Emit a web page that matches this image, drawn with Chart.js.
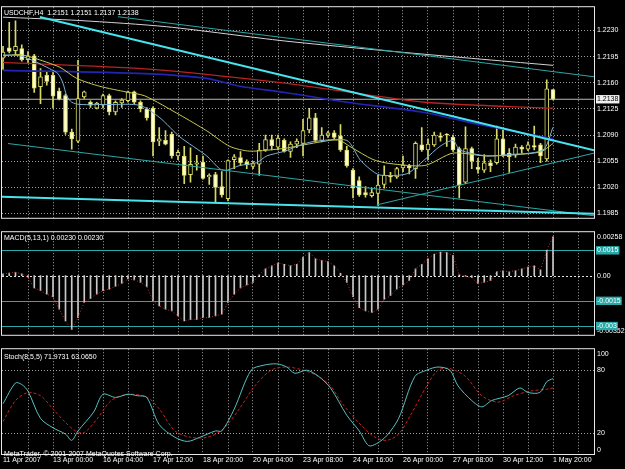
<!DOCTYPE html>
<html>
<head>
<meta charset="utf-8">
<script src="https://cdn.jsdelivr.net/npm/chart.js@4.4.1/dist/chart.umd.min.js"></script>
<style>
  html, body { margin: 0; padding: 0; background: #000; }
  #wrap { position: relative; width: 625px; height: 469px; background: #000; overflow: hidden; }
  canvas { position: absolute; left: 0; }
</style>
</head>
<body>
<div id="wrap">
  <canvas id="mainChart" width="625" height="225" style="top:0px"></canvas>
  <canvas id="macdChart" width="625" height="117" style="top:225px"></canvas>
  <canvas id="stochChart" width="625" height="127" style="top:342px"></canvas>
</div>
<script>
// USDCHF H4, 89 bars from 11 Apr 2007 16:00 to 1 May 2007 20:00
const symbol = "USDCHF,H4";
const timeLabels = ["11 Apr 2007", "13 Apr 00:00", "16 Apr 04:00", "17 Apr 12:00", "18 Apr 20:00", "20 Apr 04:00",
  "23 Apr 08:00", "24 Apr 16:00", "26 Apr 00:00", "27 Apr 08:00", "30 Apr 12:00", "1 May 20:00"];

const opens = [1.2193, 1.2207, 1.2203, 1.2206, 1.2191, 1.2196, 1.2155, 1.2170, 1.2170, 1.2149,
  1.2143, 1.2094, 1.2082, 1.2141, 1.2134, 1.2126, 1.2130, 1.2143, 1.2121, 1.2133,
  1.2136, 1.2148, 1.2134, 1.2125, 1.2126, 1.2082, 1.2083, 1.2091, 1.2062, 1.2062,
  1.2037, 1.2051, 1.2054, 1.2034, 1.2037, 1.2021, 1.2005, 1.2057, 1.2060, 1.2054,
  1.2048, 1.2051, 1.2070, 1.2084, 1.2074, 1.2083, 1.2068, 1.2078, 1.2079, 1.2097,
  1.2113, 1.2083, 1.2090, 1.2093, 1.2089, 1.2070, 1.2043, 1.2029, 1.2013, 1.2009,
  1.2012, 1.2024, 1.2036, 1.2034, 1.2046, 1.2049, 1.2045, 1.2077, 1.2070, 1.2077,
  1.2089, 1.2091, 1.2087, 1.2072, 1.2027, 1.2072, 1.2047, 1.2043, 1.2053, 1.2053,
  1.2085, 1.2066, 1.2063, 1.2074, 1.2071, 1.2076, 1.2077, 1.2058, 1.2151];
const highs = [1.2209, 1.2241, 1.2243, 1.2211, 1.2202, 1.2198, 1.2179, 1.2174, 1.2174, 1.2153,
  1.2145, 1.2098, 1.2190, 1.2149, 1.2136, 1.2134, 1.2145, 1.2145, 1.2136, 1.2139,
  1.2149, 1.2149, 1.2136, 1.2127, 1.2128, 1.2100, 1.2096, 1.2094, 1.2070, 1.2075,
  1.2073, 1.2063, 1.2062, 1.2038, 1.2040, 1.2041, 1.2057, 1.2064, 1.2068, 1.2057,
  1.2055, 1.2079, 1.2090, 1.2090, 1.2090, 1.2085, 1.2081, 1.2085, 1.2111, 1.2126,
  1.2119, 1.2100, 1.2095, 1.2096, 1.2104, 1.2075, 1.2045, 1.2034, 1.2021, 1.2019,
  1.2036, 1.2049, 1.2040, 1.2047, 1.2062, 1.2051, 1.2081, 1.2100, 1.2085, 1.2094,
  1.2093, 1.2092, 1.2090, 1.2074, 1.2101, 1.2074, 1.2059, 1.2064, 1.2057, 1.2102,
  1.2098, 1.2072, 1.2078, 1.2076, 1.2081, 1.2102, 1.2079, 1.2164, 1.2151];
const lows = [1.2178, 1.2200, 1.2198, 1.2189, 1.2187, 1.2147, 1.2132, 1.2157, 1.2126, 1.2137,
  1.2091, 1.2071, 1.2080, 1.2139, 1.2127, 1.2125, 1.2126, 1.2117, 1.2117, 1.2127,
  1.2134, 1.2132, 1.2121, 1.2110, 1.2062, 1.2076, 1.2077, 1.2059, 1.2057, 1.2025,
  1.2027, 1.2043, 1.2031, 1.2024, 1.2000, 1.2007, 1.2002, 1.2045, 1.2049, 1.2045,
  1.2045, 1.2036, 1.2068, 1.2070, 1.2070, 1.2067, 1.2060, 1.2073, 1.2062, 1.2093,
  1.2081, 1.2081, 1.2087, 1.2084, 1.2068, 1.2047, 1.2006, 1.2008, 1.2007, 1.2007,
  1.1996, 1.2019, 1.2027, 1.2032, 1.2041, 1.2038, 1.2032, 1.2068, 1.2057, 1.2075,
  1.2082, 1.2075, 1.2068, 1.2006, 1.2025, 1.2045, 1.2039, 1.2040, 1.2041, 1.2051,
  1.2061, 1.2040, 1.2060, 1.2066, 1.2069, 1.2070, 1.2053, 1.2055, 1.2137];
const closes = [1.2201, 1.2202, 1.2209, 1.2191, 1.2196, 1.2153, 1.2168, 1.2162, 1.2142, 1.2138,
  1.2094, 1.2085, 1.2139, 1.2148, 1.2130, 1.2133, 1.2143, 1.2121, 1.2134, 1.2137,
  1.2148, 1.2134, 1.2125, 1.2113, 1.2081, 1.2085, 1.2078, 1.2062, 1.2067, 1.2036,
  1.2051, 1.2053, 1.2032, 1.2036, 1.2020, 1.2010, 1.2056, 1.2061, 1.2053, 1.2050,
  1.2052, 1.2070, 1.2084, 1.2076, 1.2086, 1.2068, 1.2078, 1.2082, 1.2096, 1.2113,
  1.2083, 1.2090, 1.2093, 1.2087, 1.2070, 1.2049, 1.2019, 1.2010, 1.2010, 1.2013,
  1.2023, 1.2036, 1.2034, 1.2045, 1.2050, 1.2046, 1.2079, 1.2070, 1.2078, 1.2090,
  1.2087, 1.2090, 1.2070, 1.2023, 1.2072, 1.2055, 1.2044, 1.2053, 1.2049, 1.2085,
  1.2062, 1.2061, 1.2074, 1.2071, 1.2077, 1.2074, 1.2062, 1.2152, 1.2138];

// moving averages at (bar index, price)
const maWhiteIdx = [0, 12.3, 26.2, 45.1, 65.1, 88];
const maWhiteVal = [1.22479, 1.22434, 1.22351, 1.22160, 1.22000, 1.21834];
const maRedIdx = [0, 22.7, 45.1, 67.5, 88];
const maRedVal = [1.21873, 1.21787, 1.21596, 1.21340, 1.21260];
const maBlueIdx = [0, 22.7, 32.6, 37.9, 45.1, 55, 66.7, 77.4, 86.4, 88];
const maBlueVal = [1.21767, 1.21723, 1.21659, 1.21554, 1.21471, 1.21340, 1.21213, 1.21021, 1.20877, 1.20852];
const maYellowIdx = [0, 2.7, 4.8, 9.1, 11.8, 15.5, 19.8, 22.7, 28.3, 32.6, 36.3, 39.5, 45.1, 47, 52.3, 53.9,
  55.5, 59.2, 61.9, 67.5, 72, 77.4, 85.9, 88];
const maYellowVal = [1.21962, 1.21978, 1.21936, 1.21808, 1.21659, 1.21553, 1.21476, 1.21425, 1.21170, 1.20957,
  1.20748, 1.20685, 1.20723, 1.20752, 1.20829, 1.20829, 1.20748, 1.20573, 1.20519, 1.20493, 1.20659, 1.20621,
  1.20672, 1.20787];
const maFastIdx = [0, 2.7, 4.8, 7.5, 8.8, 9.6, 10.2, 11, 12.3, 17.1, 21.9, 25.1, 28.3, 32.6, 34.7, 35.8, 37.9,
  40.6, 42.2, 45.1, 47.5, 49.6, 55, 57.1, 58.7, 60.3, 64.6, 67.5, 69.9, 72, 73.1, 77.4, 80.6, 86.4, 88];
const maFastVal = [1.21974, 1.21962, 1.21898, 1.21787, 1.21723, 1.21595, 1.21425, 1.21340, 1.21310, 1.21310,
  1.21298, 1.21132, 1.20876, 1.20621, 1.20446, 1.20429, 1.20493, 1.20531, 1.20621, 1.20685, 1.20765, 1.20812,
  1.20829, 1.20573, 1.20446, 1.20365, 1.20382, 1.20573, 1.20749, 1.20829, 1.20701, 1.20621, 1.20637, 1.20701,
  1.21004];

// drawn trend lines: [start bar, start price, end bar, end price]
const trendThickTop = [5.9, 1.22482, 94.56, 1.20697];
const trendThinTop = [18.4, 1.22485, 94.56, 1.21681];
const trendThinLow = [0.8, 1.20787, 94.56, 1.19820];
const trendThickLow = [-0.16, 1.20076, 94.56, 1.19848];
const trendRising = [59.8, 1.19965, 94.56, 1.20659];

const priceTicks = [1.2230, 1.2195, 1.2160, 1.2125, 1.2090, 1.2055, 1.2020, 1.1985];

// MACD(5,13,1)
const macdValues = [0.0001, 0.00015, 0.0002, 0.0001, -0.0001, -0.00074, -0.0009, -0.0011, -0.00126, -0.002,
  -0.0027, -0.0032, -0.0025, -0.0016, -0.00135, -0.0011, -0.0009, -0.0008, -0.00065, -0.00047,
  -0.0002, -0.00025, -0.0004, -0.00065, -0.0015, -0.0018, -0.002, -0.0021, -0.0024, -0.0027,
  -0.0026, -0.0026, -0.0025, -0.0025, -0.0024, -0.0023, -0.0016, -0.0011, -0.00074, -0.00056,
  -0.0004, 0.00005, 0.0004, 0.00058, 0.00075, 0.00067, 0.00058, 0.00067, 0.0011, 0.00137,
  0.001, 0.0009, 0.00084, 0.00058, 0.00014, -0.0004, -0.00126, -0.0019, -0.0021, -0.0022,
  -0.002, -0.0014, -0.0012, -0.0008, -0.00056, -0.0003, 0.0004, 0.00067, 0.001, 0.00128,
  0.0014, 0.00137, 0.0012, 0.00005, -0.00004, -0.00012, -0.00047, -0.0004, -0.0003, 0.00023,
  0.00028, 0.00023, 0.0003, 0.0004, 0.0005, 0.00058, 0.00035, 0.0015, 0.0023];
const macdLevels = [0.0015, -0.0015, -0.003];
const macdLevelLabels = ["0.0015", "-0.0015", "-0.003"];

// Stochastic(8,5,5)
const stochMainIdx = [0, 2, 3, 4, 6, 8, 10, 11, 12, 14.5, 16, 18, 20, 21.5, 23, 25, 27.5, 29.5, 31.5, 34, 35, 37,
  39.7, 41.6, 43.8, 45.4, 46.7, 48.6, 50.5, 52.4, 55, 57, 58.5, 59.8, 61.4, 63.3, 65.9, 67.8, 69.6, 71.5, 72.8,
  75, 76.6, 78.2, 80.8, 82.7, 84, 85.9, 87, 88];
const stochMainVal = [48, 67.8, 66.3, 60, 34, 25, 19, 13, 22, 40, 57, 54, 57, 55.6, 54, 28, 16, 12, 16, 22, 22, 43,
  80, 84.6, 86, 83, 77, 80, 74, 63, 37, 22, 8, 10, 17.5, 34, 74, 80, 83, 80, 65, 51, 45, 51, 55.6, 63, 58.7,
  58.7, 69, 71.9731];
const stochSigIdx = [0, 2, 4, 6, 8, 10, 11.6, 13, 15, 17.3, 20, 23.1, 25, 27.5, 30, 32.7, 35.2, 37.8, 40.3, 42.9,
  45.4, 48, 50.5, 52.4, 54.3, 56.9, 59.5, 61.4, 63.3, 65.2, 67.8, 69.6, 71.5, 74, 76.6, 79.2, 81.7, 84.3, 86.9, 88];
const stochSigVal = [31, 51, 58.7, 55.6, 43, 30, 22, 20.5, 33, 51, 57, 54, 43, 22, 16, 16, 23.6, 43, 65, 80,
  83, 80, 74, 65, 48, 30, 16, 13, 19, 37, 65, 80, 81.5, 74, 55.6, 49.5, 55.6, 60, 61.7, 63.065];
const stochLevels = [80, 20];

// ---- look ----
const X_MIN = -0.16, X_MAX = 94.56;
const FONT = { family: '"Liberation Sans", Arial, sans-serif', size: 7 };
const FONT_CSS = '7px "Liberation Sans", Arial, sans-serif';
const GRID = "rgba(175,175,175,0.9)";
const CANDLE = "#d8d868";
const BEAR_FILL = "#ffffc8";
const TEAL = "#2aa8a8";

const last = closes.length - 1;
const bid = closes[last];
const pts = (idx, val) => idx.map((x, i) => ({ x: x, y: val[i] }));
const seg = t => [{ x: t[0], y: t[1] }, { x: t[2], y: t[3] }];
const gridBars = [];
for (let b = 0; b <= 92; b += 4) gridBars.push(b);

function xAxis(showLabels) {
  return {
    type: "linear", min: X_MIN, max: X_MAX, offset: false,
    grid: { color: c => (c.tick && c.tick.value === 0 ? "rgba(0,0,0,0)" : GRID), drawTicks: false, offset: false },
    border: { display: false, dash: [1, 2] },
    ticks: {
      display: showLabels, autoSkip: false, maxRotation: 0, align: "start", padding: 2,
      color: "#fff", font: FONT,
      callback: v => (v % 8 === 0 ? timeLabels[v / 8] : "")
    },
    afterBuildTicks: s => { s.ticks = gridBars.map(v => ({ value: v })); },
    afterFit: s => { s.height = showLabels ? 15 : 0; }
  };
}

const panelPlugin = {
  id: "panel",
  beforeDraw(chart, args, opts) {
    const { ctx, chartArea: a } = chart;
    ctx.save();
    ctx.fillStyle = "#000";
    ctx.fillRect(0, 0, chart.width, chart.height);
    ctx.font = FONT_CSS;
    ctx.fillStyle = "#fff";
    ctx.textAlign = "left";
    if (opts.edgeTop) { ctx.textBaseline = "top"; ctx.fillText(opts.edgeTop, a.right + 3, a.top + 1); }
    if (opts.edgeBottom) { ctx.textBaseline = "bottom"; ctx.fillText(opts.edgeBottom, a.right + 3, a.bottom); }
    ctx.restore();
  },
  beforeDatasetsDraw(chart, args, opts) {
    const { ctx, chartArea: a, scales } = chart;
    ctx.save();
    (opts.levels || []).forEach(v => {
      const y = Math.round(scales.y.getPixelForValue(v)) + 0.5;
      ctx.strokeStyle = TEAL; ctx.lineWidth = 1; ctx.setLineDash([]);
      ctx.beginPath(); ctx.moveTo(a.left, y); ctx.lineTo(a.right, y); ctx.stroke();
    });
    if (opts.zeroLine) {
      const y = Math.round(scales.y.getPixelForValue(0)) + 0.5;
      ctx.strokeStyle = "#e0e0e0"; ctx.setLineDash([2, 2]);
      ctx.beginPath(); ctx.moveTo(a.left, y); ctx.lineTo(a.right, y); ctx.stroke();
    }
    ctx.restore();
  },
  afterDraw(chart, args, opts) {
    const { ctx, chartArea: a } = chart;
    ctx.save();
    ctx.strokeStyle = "#e8e8e8"; ctx.lineWidth = 1;
    ctx.strokeRect(a.left - 0.5, a.top - 0.5, a.right - a.left + 1, a.bottom - a.top + 1);
    ctx.font = FONT_CSS; ctx.fillStyle = "#fff"; ctx.textAlign = "left"; ctx.textBaseline = "middle";
    (opts.texts || []).forEach(t => ctx.fillText(t.text, a.left + 2, a.top + t.dy));
    ctx.restore();
  }
};

const common = {
  responsive: false, animation: false, events: [],
  plugins: { legend: { display: false }, tooltip: { enabled: false } }
};

function lineSet(data, color, width, extra) {
  return Object.assign({ type: "line", data: data, borderColor: color, borderWidth: width,
    pointRadius: 0, tension: 0.25, fill: false }, extra || {});
}

// ---- main price chart ----
const wickData = highs.map((h, i) => ({ x: i, y: [lows[i], h] }));
const bodyData = opens.map((o, i) => ({ x: i, y: [Math.min(o, closes[i]), Math.max(o, closes[i])] }));
const mainTitle = symbol + "  " + [opens[last], highs[last], lows[last], closes[last]].map(v => v.toFixed(4)).join(" ");

new Chart(document.getElementById("mainChart"), {
  type: "bar",
  data: {
    datasets: [
      lineSet([{ x: X_MIN, y: bid }, { x: X_MAX, y: bid }], "#b8b8b8", 1, { tension: 0, order: 20 }),
      { type: "bar", data: wickData, backgroundColor: CANDLE, borderWidth: 0, barThickness: 1, grouped: false, order: 12 },
      { type: "bar", data: bodyData, borderColor: CANDLE, borderWidth: 1, borderSkipped: false, barThickness: 4,
        grouped: false, order: 11,
        backgroundColor: c => (closes[c.dataIndex] >= opens[c.dataIndex] ? "#000" : BEAR_FILL) },
      lineSet(pts(maWhiteIdx, maWhiteVal), "#d4d4d4", 1, { order: 6 }),
      lineSet(pts(maRedIdx, maRedVal), "#b82222", 1.3, { order: 5 }),
      lineSet(pts(maBlueIdx, maBlueVal), "#2424b4", 1.6, { order: 4 }),
      lineSet(pts(maYellowIdx, maYellowVal), "#c8c850", 1, { order: 3 }),
      lineSet(pts(maFastIdx, maFastVal), "#78b4d4", 1, { order: 2 }),
      lineSet(seg(trendThickTop), "#48e4ee", 2, { tension: 0, order: 1 }),
      lineSet(seg(trendThickLow), "#48e4ee", 2, { tension: 0, order: 1 }),
      lineSet(seg(trendThinTop), TEAL, 1, { tension: 0, order: 1 }),
      lineSet(seg(trendThinLow), TEAL, 1, { tension: 0, order: 1 }),
      lineSet(seg(trendRising), TEAL, 1, { tension: 0, order: 1 })
    ]
  },
  options: Object.assign({}, common, {
    layout: { padding: { left: 2, right: 0, top: 2, bottom: 2 } },
    scales: {
      x: xAxis(false),
      y: {
        type: "linear", position: "right", min: 1.197926, max: 1.226126, beginAtZero: false,
        grid: { color: c => (c.tick && c.tick.value === bid ? "rgba(0,0,0,0)" : GRID), drawTicks: false },
        border: { display: false, dash: [1, 2] },
        ticks: {
          font: FONT, padding: 3,
          color: c => (c.tick && c.tick.value === bid ? "#000" : "#fff"),
          showLabelBackdrop: c => !!(c.tick && c.tick.value === bid),
          backdropColor: "#f0f0f0", backdropPadding: { top: 0, bottom: 0, left: 1, right: 1 },
          callback: v => v.toFixed(4)
        },
        afterBuildTicks: s => { s.ticks = priceTicks.concat([bid]).map(v => ({ value: v })); },
        afterFit: s => { s.width = 31; }
      }
    },
    plugins: Object.assign({}, common.plugins, { panel: { texts: [{ text: mainTitle, dy: 6 }] } })
  }),
  plugins: [panelPlugin]
});

// ---- MACD ----
new Chart(document.getElementById("macdChart"), {
  type: "bar",
  data: {
    datasets: [
      { type: "bar", data: macdValues.map((v, i) => ({ x: i, y: v })), backgroundColor: "#c8c8c8",
        barThickness: 1, borderWidth: 0, grouped: false, order: 2 },
      lineSet(macdValues.map((v, i) => ({ x: i, y: v })), "#c03030", 1, { tension: 0, borderDash: [1, 2], order: 1 })
    ]
  },
  options: Object.assign({}, common, {
    layout: { padding: { left: 2, right: 0, top: 1, bottom: 1 } },
    scales: {
      x: xAxis(false),
      y: {
        type: "linear", position: "right", min: -0.00352, max: 0.00258, beginAtZero: false,
        grid: { display: false, drawTicks: false },
        border: { display: false },
        ticks: {
          font: FONT, padding: 3, color: "#fff",
          showLabelBackdrop: c => !!(c.tick && c.tick.value !== 0),
          backdropColor: TEAL, backdropPadding: { top: 0, bottom: 0, left: 1, right: 1 },
          callback: v => (v === 0 ? "0.00" : macdLevelLabels[macdLevels.indexOf(v)])
        },
        afterBuildTicks: s => { s.ticks = [macdLevels[0], 0, macdLevels[1], macdLevels[2]].map(v => ({ value: v })); },
        afterFit: s => { s.width = 31; }
      }
    },
    plugins: Object.assign({}, common.plugins, {
      panel: {
        levels: macdLevels, zeroLine: true, edgeTop: "0.00258", edgeBottom: "-0.00352",
        texts: [{ text: "MACD(5,13,1) " + macdValues[last].toFixed(5) + " " + macdValues[last].toFixed(5), dy: 6 }]
      }
    })
  }),
  plugins: [panelPlugin]
});

// ---- Stochastic ----
new Chart(document.getElementById("stochChart"), {
  type: "line",
  data: {
    datasets: [
      lineSet(pts(stochSigIdx, stochSigVal), "#c02222", 1, { borderDash: [3, 2], tension: 0.3, order: 2 }),
      lineSet(pts(stochMainIdx, stochMainVal), "#58c0c0", 1, { tension: 0.3, order: 1 })
    ]
  },
  options: Object.assign({}, common, {
    layout: { padding: { left: 2, right: 0, top: 2, bottom: 0 } },
    scales: {
      x: xAxis(true),
      y: {
        type: "linear", position: "right", min: 0, max: 100,
        grid: { color: GRID, drawTicks: false },
        border: { display: false, dash: [1, 2] },
        ticks: { font: FONT, padding: 3, color: "#fff", callback: v => String(v) },
        afterBuildTicks: s => { s.ticks = stochLevels.map(v => ({ value: v })); },
        afterFit: s => { s.width = 31; }
      }
    },
    plugins: Object.assign({}, common.plugins, {
      panel: {
        edgeTop: "100", edgeBottom: "0",
        texts: [
          { text: "Stoch(8,5,5) " + stochMainVal[stochMainVal.length - 1].toFixed(4) + " " + stochSigVal[stochSigVal.length - 1].toFixed(4), dy: 8 },
          { text: "MetaTrader, \u00a9 2001-2007 MetaQuotes Software Corp.", dy: 105 }
        ]
      }
    })
  }),
  plugins: [panelPlugin]
});
</script>
</body>
</html>
